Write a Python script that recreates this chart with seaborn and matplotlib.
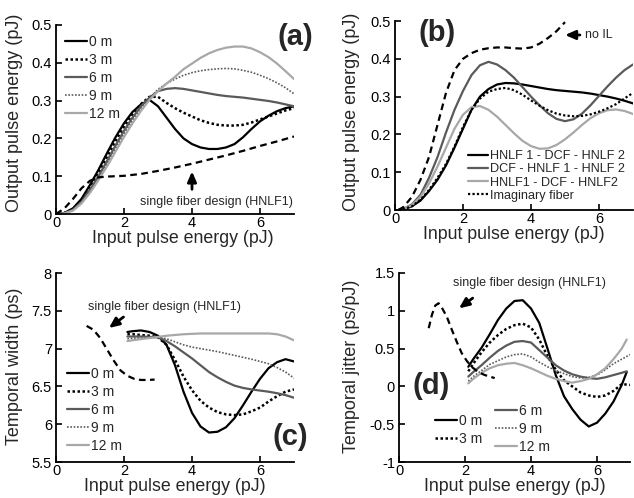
import matplotlib
matplotlib.use("Agg")
import matplotlib.pyplot as plt
import seaborn as sns
from matplotlib.lines import Line2D

# ---------------- data: panel (a) ----------------
xa = [0.1, 0.25, 0.5, 0.75, 1.0, 1.25, 1.5, 1.75, 2.0, 2.25, 2.5, 2.75, 3.0, 3.25, 3.5,
      3.75, 4.0, 4.25, 4.5, 4.75, 5.0, 5.25, 5.5, 5.75, 6.0, 6.25, 6.5, 6.75, 7.0]
a_0m = [0.0, 0.003, 0.015, 0.04, 0.077, 0.117, 0.161, 0.203, 0.24, 0.27, 0.29, 0.302, 0.285,
        0.255, 0.225, 0.2, 0.185, 0.176, 0.172, 0.172, 0.176, 0.185, 0.203, 0.225, 0.245,
        0.26, 0.272, 0.28, 0.285]
a_3m = [0.0, 0.003, 0.013, 0.037, 0.07, 0.108, 0.15, 0.193, 0.231, 0.264, 0.291, 0.31, 0.31,
        0.294, 0.28, 0.268, 0.258, 0.248, 0.241, 0.236, 0.234, 0.234, 0.236, 0.242, 0.25,
        0.258, 0.266, 0.274, 0.28]
a_6m = [0.0, 0.002, 0.011, 0.032, 0.064, 0.1, 0.14, 0.181, 0.22, 0.255, 0.285, 0.308, 0.325,
        0.331, 0.333, 0.331, 0.327, 0.323, 0.319, 0.315, 0.312, 0.31, 0.308, 0.305, 0.302,
        0.299, 0.295, 0.29, 0.285]
a_9m = [0.0, 0.002, 0.01, 0.03, 0.06, 0.095, 0.133, 0.173, 0.212, 0.248, 0.28, 0.305, 0.33,
        0.345, 0.357, 0.367, 0.374, 0.379, 0.382, 0.384, 0.385, 0.384, 0.38, 0.375, 0.367,
        0.358, 0.347, 0.334, 0.318]
a_12m = [0.0, 0.002, 0.009, 0.028, 0.056, 0.09, 0.126, 0.165, 0.204, 0.24, 0.273, 0.302, 0.325,
         0.345, 0.363, 0.383, 0.398, 0.413, 0.425, 0.434, 0.44, 0.443, 0.443, 0.438, 0.428,
         0.415, 0.398, 0.378, 0.357]
xa_single = [0.0, 0.25, 0.5, 0.75, 1.0, 1.25, 1.5, 2.0, 2.5, 3.0, 3.5, 4.0, 4.5, 5.0, 5.5, 6.0, 6.5, 7.0]
a_single = [0.0, 0.015, 0.04, 0.068, 0.088, 0.097, 0.099, 0.101, 0.106, 0.114, 0.123, 0.133,
            0.144, 0.155, 0.167, 0.18, 0.192, 0.205]

# ---------------- data: panel (b) ----------------
xb = xa
b_h1dh2 = [0.0, 0.002, 0.01, 0.025, 0.05, 0.08, 0.118, 0.165, 0.215, 0.265, 0.3, 0.32, 0.332,
           0.336, 0.335, 0.332, 0.328, 0.324, 0.32, 0.317, 0.315, 0.313, 0.311, 0.308, 0.304,
           0.3, 0.295, 0.289, 0.282]
b_dh1h2 = [0.0, 0.003, 0.015, 0.04, 0.085, 0.14, 0.205, 0.265, 0.315, 0.357, 0.383, 0.392,
           0.385, 0.37, 0.35, 0.325, 0.3, 0.277, 0.256, 0.241, 0.235, 0.24, 0.255, 0.277,
           0.302, 0.327, 0.35, 0.37, 0.385]
b_h1dh2b = [0.0, 0.003, 0.013, 0.035, 0.07, 0.115, 0.165, 0.215, 0.252, 0.272, 0.275, 0.265,
            0.247, 0.225, 0.203, 0.183, 0.169, 0.162, 0.163, 0.172, 0.187, 0.205, 0.225,
            0.243, 0.256, 0.264, 0.266, 0.262, 0.254]
b_imag = [0.0, 0.002, 0.01, 0.027, 0.053, 0.085, 0.122, 0.168, 0.22, 0.265, 0.295, 0.313,
          0.32, 0.323, 0.317, 0.305, 0.29, 0.276, 0.264, 0.255, 0.25, 0.248, 0.249, 0.253,
          0.26, 0.269, 0.28, 0.295, 0.31]
xb_noil = [0.1, 0.25, 0.5, 0.75, 1.0, 1.25, 1.5, 1.75, 2.0, 2.25, 2.5, 2.75, 3.0, 3.25, 3.5,
           3.75, 4.0, 4.25, 4.5, 4.75, 5.0]
b_noil = [0.0, 0.008, 0.035, 0.08, 0.14, 0.225, 0.31, 0.37, 0.4, 0.415, 0.424, 0.428, 0.43,
          0.43, 0.428, 0.427, 0.43, 0.44, 0.455, 0.473, 0.497]

# ---------------- data: panel (c) ----------------
xc = [2.1, 2.25, 2.5, 2.75, 3.0, 3.25, 3.5, 3.75, 4.0, 4.25, 4.5, 4.75, 5.0, 5.25, 5.5,
      5.75, 6.0, 6.25, 6.5, 6.75, 7.0]
c_0m = [7.22, 7.23, 7.24, 7.22, 7.17, 7.05, 6.78, 6.43, 6.15, 5.97, 5.89, 5.9, 5.96, 6.08,
        6.25, 6.43, 6.6, 6.74, 6.82, 6.86, 6.83]
c_3m = [7.19, 7.19, 7.18, 7.17, 7.15, 7.05, 6.85, 6.63, 6.45, 6.31, 6.22, 6.16, 6.13, 6.12,
        6.13, 6.17, 6.22, 6.3, 6.37, 6.43, 6.46]
c_6m = [7.16, 7.16, 7.16, 7.155, 7.15, 7.1, 7.03, 6.95, 6.87, 6.78, 6.69, 6.62, 6.56, 6.51,
        6.48, 6.46, 6.445, 6.43, 6.41, 6.385, 6.35]
c_9m = [7.13, 7.135, 7.14, 7.145, 7.15, 7.13, 7.09, 7.05, 7.02, 7.0, 6.98, 6.96, 6.935, 6.91,
        6.885, 6.86, 6.83, 6.8, 6.75, 6.69, 6.61]
c_12m = [7.1, 7.11, 7.125, 7.14, 7.155, 7.17, 7.18, 7.19, 7.195, 7.2, 7.2, 7.2, 7.2, 7.2,
         7.2, 7.2, 7.2, 7.2, 7.19, 7.16, 7.11]
xc_single = [0.9, 1.1, 1.3, 1.5, 1.7, 1.9, 2.1, 2.3, 2.5, 2.7, 2.9]
c_single = [7.3, 7.25, 7.14, 6.99, 6.84, 6.71, 6.64, 6.6, 6.585, 6.585, 6.59]

# ---------------- data: panel (d) ----------------
xd = xc
xd_short = xc[:-1] + [6.9]
d_0m = [0.26, 0.36, 0.51, 0.69, 0.88, 1.03, 1.13, 1.14, 1.03, 0.84, 0.5, 0.15, -0.13, -0.3,
        -0.44, -0.53, -0.48, -0.36, -0.2, 0.02, 0.19]
d_3m = [0.2, 0.3, 0.45, 0.58, 0.68, 0.76, 0.81, 0.83, 0.78, 0.62, 0.4, 0.22, 0.08, 0.0,
        -0.08, -0.12, -0.14, -0.12, -0.06, 0.03, 0.02]
d_6m = [0.13, 0.19, 0.28, 0.38, 0.47, 0.54, 0.59, 0.6, 0.58, 0.48, 0.38, 0.28, 0.21, 0.16,
        0.13, 0.11, 0.1, 0.12, 0.15, 0.18, 0.2]
d_9m = [0.07, 0.13, 0.21, 0.29, 0.34, 0.39, 0.42, 0.43, 0.39, 0.32, 0.26, 0.21, 0.17, 0.13,
        0.11, 0.12, 0.15, 0.22, 0.3, 0.36, 0.42]
d_12m = [0.04, 0.1, 0.18, 0.24, 0.28, 0.3, 0.31, 0.28, 0.24, 0.19, 0.14, 0.1, 0.07, 0.05,
         0.07, 0.1, 0.16, 0.24, 0.36, 0.5, 0.62]
xd_single = [0.9, 1.0, 1.1, 1.2, 1.3, 1.45, 1.6, 1.75, 1.9, 2.05, 2.2, 2.4, 2.6, 2.9]
d_single = [0.77, 0.95, 1.07, 1.1, 1.04, 0.92, 0.75, 0.59, 0.44, 0.34, 0.26, 0.19, 0.15, 0.11]

length_labels = ["0 m", "3 m", "6 m", "9 m", "12 m"]
config_labels = ["HNLF 1 - DCF - HNLF 2", "DCF - HNLF 1 - HNLF 2",
                 "HNLF1 - DCF - HNLF2", "Imaginary fiber"]
xticks = [0, 2, 4, 6]
yticks_a = [0, 0.1, 0.2, 0.3, 0.4, 0.5]
yticks_c = [5.5, 6, 6.5, 7, 7.5, 8]
yticks_d = [-1, -0.5, 0, 0.5, 1, 1.5]

# ---------------- styling ----------------
sns.set_theme(style="ticks")
plt.rcParams["font.family"] = ["Liberation Sans", "DejaVu Sans"]

BLACK = "#000000"
DARK = "#5a5a5a"
LIGHT = "#a8a8a8"
DOT = (0, (1, 1))
DASH = (0, (3, 2))
styles = [
    dict(color=BLACK, lw=1.6, ls="-"),
    dict(color=BLACK, lw=1.8, ls=DOT),
    dict(color=DARK, lw=1.6, ls="-"),
    dict(color=DARK, lw=1.2, ls=DOT),
    dict(color=LIGHT, lw=1.6, ls="-"),
]
bstyles = [
    dict(color=BLACK, lw=1.6, ls="-"),
    dict(color=DARK, lw=1.6, ls="-"),
    dict(color=LIGHT, lw=1.6, ls="-"),
    dict(color=BLACK, lw=1.6, ls=DOT),
]

W, H = 634, 498
fig = plt.figure(figsize=(W / 100, H / 100), dpi=100)


def add(l, r, t, b):
    return fig.add_axes([l / W, 1 - b / H, (r - l) / W, (b - t) / H])


axA = add(56, 294, 25, 214)
axB = add(395, 633, 21, 210)
axC = add(56, 294, 273, 462)
axD = add(399, 630, 273, 462)


def line(ax, x, y, st):
    sns.lineplot(x=x, y=y, ax=ax, color=st["color"], lw=st["lw"], linestyle=st["ls"],
                 estimator=None, sort=False, legend=False)


def handles(sts, labels):
    return [Line2D([], [], color=s["color"], lw=s["lw"], ls=s["ls"]) for s in sts], labels


def fmt(v):
    return f"{v:g}"


def style_axes(ax, yticks, ylim, ylabel, ylab_x, ylab_y, xlab_x, xlab_y):
    ax.set_xlim(0, 7)
    ax.set_ylim(*ylim)
    ax.set_xticks(xticks)
    ax.set_xticklabels([fmt(v) for v in xticks])
    ax.set_yticks(yticks)
    ax.set_yticklabels([fmt(v) for v in yticks])
    for s in ["top", "right"]:
        ax.spines[s].set_visible(False)
    for s in ["left", "bottom"]:
        ax.spines[s].set_linewidth(1.3)
        ax.spines[s].set_color("black")
    ax.tick_params(direction="in", length=4, width=1.2, labelsize=10.5, colors="black")
    ax.tick_params(axis="x", pad=1.2)
    ax.tick_params(axis="y", pad=2.9)
    ax.set_xlabel("Input pulse energy (pJ)", fontsize=12.8)
    ax.set_ylabel(ylabel, fontsize=13)
    ax.xaxis.set_label_coords(xlab_x, xlab_y)
    ax.yaxis.set_label_coords(ylab_x, ylab_y)
    ax.xaxis.label.set_va("top")
    ax.set_facecolor("white")


leg_kw = dict(frameon=False, fontsize=10, handlelength=1.6, handletextpad=0.15,
              borderpad=0, borderaxespad=0, labelspacing=0.28,
              bbox_transform=fig.transFigure, loc="upper left")
ARROW = dict(arrowstyle="-|>,head_length=0.5,head_width=0.22", color="black", lw=2)

# ---- panel (a)
for y, st in zip([a_0m, a_3m, a_6m, a_9m, a_12m], styles):
    line(axA, xa, y, st)
line(axA, xa_single, a_single, dict(color=BLACK, lw=1.6, ls=DASH))
style_axes(axA, yticks_a, (0, 0.5), "Output pulse energy (pJ)", -0.139, 0.534, 0.534, -0.086)
h, l = handles(styles, length_labels)
axA.legend(h, l, bbox_to_anchor=(65 / W, 1 - 35 / H), **leg_kw)
axA.annotate("", xy=(4.0, 0.12), xytext=(4.0, 0.058), arrowprops=ARROW)
axA.text(6.98, 0.031, "single fiber design (HNLF1)", fontsize=9, ha="right", va="center")
axA.text(7.03, 0.468, "(a)", fontsize=21, fontweight="bold", ha="center", va="center",
         clip_on=False)

# ---- panel (b)
for y, st in zip([b_h1dh2, b_dh1h2, b_h1dh2b, b_imag], bstyles):
    line(axB, xb, y, st)
line(axB, xb_noil, b_noil, dict(color=BLACK, lw=1.6, ls=DASH))
style_axes(axB, yticks_a, (0, 0.5), "Output pulse energy (pJ)", -0.147, 0.52, 0.5, -0.084)
h, l = handles(bstyles, config_labels)
kw = dict(leg_kw)
kw.update(labelspacing=0.1, fontsize=9.1)
axB.legend(h, l, bbox_to_anchor=(468 / W, 1 - 150 / H), **kw)
axB.annotate("", xy=(4.92, 0.463), xytext=(5.52, 0.463), arrowprops=ARROW)
axB.text(5.58, 0.463, "no IL", fontsize=9, ha="left", va="center")
axB.text(1.24, 0.468, "(b)", fontsize=21, fontweight="bold", ha="center", va="center")

# ---- panel (c)
for y, st in zip([c_0m, c_3m, c_6m, c_9m, c_12m], styles):
    line(axC, xc, y, st)
line(axC, xc_single, c_single, dict(color=BLACK, lw=1.6, ls=DASH))
style_axes(axC, yticks_c, (5.5, 8), "Temporal width (ps)", -0.139, 0.508, 0.5, -0.086)
h, l = handles(styles, length_labels)
axC.legend(h, l, bbox_to_anchor=(67 / W, 1 - 367 / H), **leg_kw)
axC.annotate("", xy=(1.49, 7.25), xytext=(2.05, 7.44), arrowprops=ARROW)
axC.text(3.2, 7.55, "single fiber design (HNLF1)", fontsize=9, ha="center", va="center")
axC.text(6.88, 5.83, "(c)", fontsize=21, fontweight="bold", ha="center", va="center",
         clip_on=False)

# ---- panel (d)
line(axD, xd_short, d_0m, styles[0])
line(axD, xd, d_3m, styles[1])
line(axD, xd_short, d_6m, styles[2])
line(axD, xd, d_9m, styles[3])
line(axD, xd_short, d_12m, styles[4])
line(axD, xd_single, d_single, dict(color=BLACK, lw=1.6, ls=DASH))
style_axes(axD, yticks_d, (-1, 1.5), "Temporal jitter (ps/pJ)", -0.169, 0.508, 0.5, -0.086)
h, l = handles(styles, length_labels)
leg1 = axD.legend(h[:2], l[:2], bbox_to_anchor=(435 / W, 1 - 414 / H), **leg_kw)
axD.add_artist(leg1)
axD.legend(h[2:], l[2:], bbox_to_anchor=(495 / W, 1 - 404 / H), **leg_kw)
axD.annotate("", xy=(1.75, 1.01), xytext=(2.3, 1.19), arrowprops=ARROW)
axD.text(3.94, 1.37, "single fiber design (HNLF1)", fontsize=9, ha="center", va="center")
axD.text(0.97, 0.005, "(d)", fontsize=21, fontweight="bold", ha="center", va="center")

fig.savefig("out.png", dpi=100, facecolor="white")
